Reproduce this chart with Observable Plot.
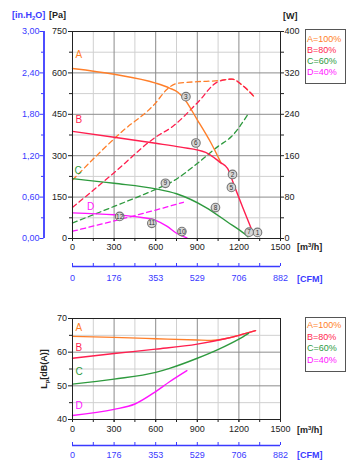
<!DOCTYPE html>
<html><head><meta charset="utf-8">
<script src="https://cdn.jsdelivr.net/npm/d3@7"></script>
<script src="https://cdn.jsdelivr.net/npm/@observablehq/plot@0.6"></script>
<style>
body{margin:0;background:#fff;font-family:"Liberation Sans",Arial,Helvetica,sans-serif;}
#wrap{position:relative;width:358px;height:473px;overflow:hidden;background:#fff;}
#wrap svg{display:block;}
.lbl{position:absolute;font-size:9px;font-weight:bold;white-space:nowrap;line-height:9px;color:#222;}
.lbl sub{font-size:6px;vertical-align:0;position:relative;top:2px;}
.lbl sup{font-size:6px;vertical-align:0;position:relative;top:-3px;}
.legend{position:absolute;border:1px solid #555;box-sizing:border-box;font-size:9px;padding-left:1px;white-space:nowrap;background:#fff;}
</style></head><body><div id="wrap"></div>
<script>
// ---- axis ticks / labels ----
const flowTicks = [0,300,600,900,1200,1500];
const flowMinor = [150,450,750,1050,1350];
const flowAll = [0,150,300,450,600,750,900,1050,1200,1350,1500];
const paTicks = [0,150,300,450,600,750];
const paMinor = [75,225,375,525,675];
const inH2OLabels = ["0,00","0,60","1,20","1,80","2,40","3,00"];
const wattLabels = ["0","80","160","240","320","400"];
const cfmLabels = ["0","176","353","529","706","882"];
const dbTicks = [40,50,60,70];
const dbMinor = [45,55,65];
const seriesNames = ["A","B","C","D"];
const legendTexts = ["A=100%","B=80%","C=60%","D=40%"];

// ---- pressure curves [Pa] vs flow [m3/h] ----
const pA_q = [0,300,600,700,760,800,900,1000,1070];
const pA_pa = [616,595,563,545,530,510,430,345,275];
const pB_q = [0,300,600,780,960,1067,1118,1166,1230,1298];
const pB_pa = [388,367,345,331,312,275,254,192,110,25];
const pC_q = [0,300,600,750,960,1120,1240,1265];
const pC_pa = [217,200,180,162,113,59,17,6];
const pD_q = [0,300,500,600,680,750,825];
const pD_pa = [93,86,76,66,45,19,2];

// ---- power curves [W] vs flow ----
const wA_q = [0,350,600,680,760,900,1050,1150,1230,1310];
const wA_w = [113,205,262,288,300,303,305,308,295,274];
const wB_q = [0,300,600,720,900,1050,1150,1230,1310];
const wB_w = [60,127,196,216,262,303,308,295,274];
const wC_q = [0,300,600,720,900,1050,1150,1270];
const wC_w = [30,62,95,110,145,178,198,242];
const wD_q = [0,300,600,800];
const wD_w = [14,34,55,70];

// ---- operating point markers ----
const markerN = [1,2,3,5,6,7,8,9,10,11,12];
const markerQ = [1334,1154,818,1146,890,1274,1031,670,789,572,340];
const markerPa = [22,232,514,185,346,23,112,200,25,55,80];

// ---- sound power level [dB(A)] vs flow ----
const sA_q = [0,300,600,900,1000,1100,1200,1320];
const sA_db = [64.7,64.4,64.0,63.6,63.5,64.0,65.0,66.4];
const sB_q = [0,300,600,900,1100,1200,1320];
const sB_db = [58.2,59.6,60.9,62.4,64.0,65.0,66.4];
const sC_q = [0,300,600,700,900,1060,1200,1270];
const sC_db = [50.5,52.0,54.0,55.2,58.2,61.0,63.9,65.6];
const sD_q = [0,300,450,600,700,825];
const sD_db = [41.2,43.0,44.6,48.3,51.2,54.5];

// ---- styles ----
const colors = {A:"#ff7f2a", B:"#ff1f4f", C:"#2e9a3e", D:"#ff14ff"};
const blue = "#3a3aff";
const ink = "#222";
const gMinor = "#d0d0d0", gMajor = "#8c8c8c";
const font = "'Liberation Sans', Arial, Helvetica, sans-serif";
const W2PA = 750/400;

const zip = (qs, vs) => qs.map((q,i)=>({q, v: vs[i]}));
const pressure = {A: zip(pA_q,pA_pa), B: zip(pB_q,pB_pa), C: zip(pC_q,pC_pa), D: zip(pD_q,pD_pa)};
const power = {A: zip(wA_q,wA_w), B: zip(wB_q,wB_w), C: zip(wC_q,wC_w), D: zip(wD_q,wD_w)};
const sound = {A: zip(sA_q,sA_db), B: zip(sB_q,sB_db), C: zip(sC_q,sC_db), D: zip(sD_q,sD_db)};
const markers = markerN.map((n,i)=>({n, q: markerQ[i], pa: markerPa[i]}));

const topLabelOffset = {A:[3,-14], B:[3,-11.6], C:[2,-8], D:[14.5,-6]};
const botLabelOffset = {A:[3,-8.5], B:[3,-10], C:[3,-12], D:[3,-10]};
const numFmt = d => `${d}`;

function grids(yMinor, yMajor){
  return [
    Plot.gridX(flowMinor, {stroke:gMinor, strokeOpacity:1}),
    Plot.gridY(yMinor, {stroke:gMinor, strokeOpacity:1}),
    Plot.gridX(flowTicks.slice(1,-1), {stroke:gMajor, strokeOpacity:1}),
    Plot.gridY(yMajor, {stroke:gMajor, strokeOpacity:1})
  ];
}

const topMarks = [
  ...grids(paMinor, paTicks.slice(1,-1)),
  ...seriesNames.map(k => Plot.line(power[k], {x:"q", y: d => d.v*W2PA, stroke: colors[k], strokeWidth:1.3, strokeDasharray:"5,3.5", curve:"monotone-x"})),
  ...seriesNames.map(k => Plot.line(pressure[k], {x:"q", y:"v", stroke: colors[k], strokeWidth:1.4, curve:"monotone-x"})),
  ...seriesNames.map(k => Plot.text([pressure[k][0]], {x:"q", y:"v", text:()=>k, fill: colors[k], fontSize:10, textAnchor:"start", dx: topLabelOffset[k][0], dy: topLabelOffset[k][1]})),
  Plot.dot(markers, {x:"q", y:"pa", r:4.3, fill:"#d6d6d6", stroke:"#777", strokeWidth:1.1}),
  Plot.text(markers, {x:"q", y:"pa", text:"n", fontSize:6.5, fill:"#333"}),
  Plot.frame({stroke:ink}),
  // x axis (m3/h)
  Plot.axisX(flowAll, {anchor:"bottom", tickSize:3, tickFormat:()=>"", label:null, color:ink}),
  Plot.axisX(flowTicks, {anchor:"bottom", tickSize:3, tickPadding:2.5, tickFormat:numFmt, label:null, color:ink}),
  // CFM axis
  Plot.axisX(flowAll, {anchor:"bottom", tickSize:3, dy:25, tickFormat:()=>"", label:null, color:blue}),
  Plot.ruleY([0], {dy:28, stroke:blue, strokeWidth:1.6}),
  Plot.axisX(flowTicks, {anchor:"bottom", tickSize:0, tickPadding:0, dy:36.5, tickFormat:d=>cfmLabels[flowTicks.indexOf(d)], label:null, color:blue}),
  // Pa axis
  Plot.axisY(paMinor, {anchor:"left", tickSize:3, tickFormat:()=>"", label:null, color:ink}),
  Plot.axisY(paTicks, {anchor:"left", tickSize:4, tickPadding:1.5, tickFormat:numFmt, label:null, color:ink}),
  // in.H2O axis
  Plot.ruleX([0], {dx:-28.5, stroke:blue, strokeWidth:1.8}),
  Plot.axisY(paMinor, {anchor:"left", dx:-28.5, tickSize:2.5, tickFormat:()=>"", label:null, color:blue}),
  Plot.axisY(paTicks, {anchor:"left", dx:-28.5, tickSize:4, tickPadding:0.5, tickFormat:d=>inH2OLabels[paTicks.indexOf(d)], label:null, color:blue}),
  // W axis
  Plot.axisY(paMinor, {anchor:"right", tickSize:3, tickFormat:()=>"", label:null, color:ink}),
  Plot.axisY(paTicks, {anchor:"right", tickSize:3, tickPadding:1, tickFormat:d=>wattLabels[paTicks.indexOf(d)], label:null, color:ink})
];

const topPlot = Plot.plot({
  width:358, height:290,
  marginLeft:72, marginRight:78, marginTop:31, marginBottom:52,
  x:{domain:[0,1500]}, y:{domain:[0,750]},
  style:{fontFamily:font, fontSize:"9px", background:"white"},
  marks: topMarks
});

const botMarks = [
  ...grids(dbMinor, dbTicks.slice(1,-1)),
  ...seriesNames.map(k => Plot.line(sound[k], {x:"q", y:"v", stroke: colors[k], strokeWidth:1.4, curve:"monotone-x"})),
  ...seriesNames.map(k => Plot.text([sound[k][0]], {x:"q", y:"v", text:()=>k, fill: colors[k], fontSize:10, textAnchor:"start", dx: botLabelOffset[k][0], dy: botLabelOffset[k][1]})),
  Plot.frame({stroke:ink}),
  Plot.axisX(flowAll, {anchor:"bottom", tickSize:3, tickFormat:()=>"", label:null, color:ink}),
  Plot.axisX(flowTicks, {anchor:"bottom", tickSize:3, tickPadding:3.5, tickFormat:numFmt, label:null, color:ink}),
  Plot.axisX(flowAll, {anchor:"bottom", tickSize:3, dy:23, tickFormat:()=>"", label:null, color:blue}),
  Plot.ruleY([40], {dy:26, stroke:blue, strokeWidth:1.6}),
  Plot.axisX(flowTicks, {anchor:"bottom", tickSize:0, tickPadding:0, dy:32.2, tickFormat:d=>cfmLabels[flowTicks.indexOf(d)], label:null, color:blue}),
  Plot.axisY(dbMinor, {anchor:"left", tickSize:3, tickFormat:()=>"", label:null, color:ink}),
  Plot.axisY(dbTicks, {anchor:"left", tickSize:4, tickPadding:1.5, tickFormat:numFmt, label:null, color:ink})
];

const botPlot = Plot.plot({
  width:358, height:183,
  marginLeft:72, marginRight:78, marginTop:28, marginBottom:54,
  x:{domain:[0,1500]}, y:{domain:[40,70]},
  style:{fontFamily:font, fontSize:"9px", background:"white"},
  marks: botMarks
});

const wrap = document.getElementById("wrap");
wrap.appendChild(topPlot);
wrap.appendChild(botPlot);

function addLabel(html, left, top, color, extra){
  const d = document.createElement("div");
  d.className = "lbl";
  d.innerHTML = html;
  d.style.left = left+"px"; d.style.top = top+"px";
  if (color) d.style.color = color;
  if (extra) Object.assign(d.style, extra);
  wrap.appendChild(d);
  return d;
}
addLabel("[in.H<sub>2</sub>O]", 12, 10.5, blue);
addLabel("[Pa]", 49, 10.5, ink);
addLabel("[W]", 283, 12, ink);
addLabel("[m<sup>3</sup>/h]", 297, 242.5, ink);
addLabel("[CFM]", 297, 274.5, blue);
addLabel("[m<sup>3</sup>/h]", 297, 425.5, ink);
addLabel("[CFM]", 297, 451, blue);
addLabel("L<sub>p</sub>[dB(A)]", 45, 369, ink, {transform:"translate(-50%,-50%) rotate(-90deg)"});

function addLegend(top, lh, pad){
  const box = document.createElement("div");
  box.className = "legend";
  box.style.left = "305px"; box.style.top = top+"px";
  box.style.width = "41px"; box.style.height = "55px";
  box.style.paddingTop = pad+"px";
  seriesNames.forEach((k,i)=>{
    const r = document.createElement("div");
    r.textContent = legendTexts[i];
    r.style.color = colors[k];
    r.style.lineHeight = lh+"px";
    box.appendChild(r);
  });
  wrap.appendChild(box);
}
addLegend(29, 11.1, 3.8);
addLegend(317, 11.5, 2.3);
</script></body></html>
